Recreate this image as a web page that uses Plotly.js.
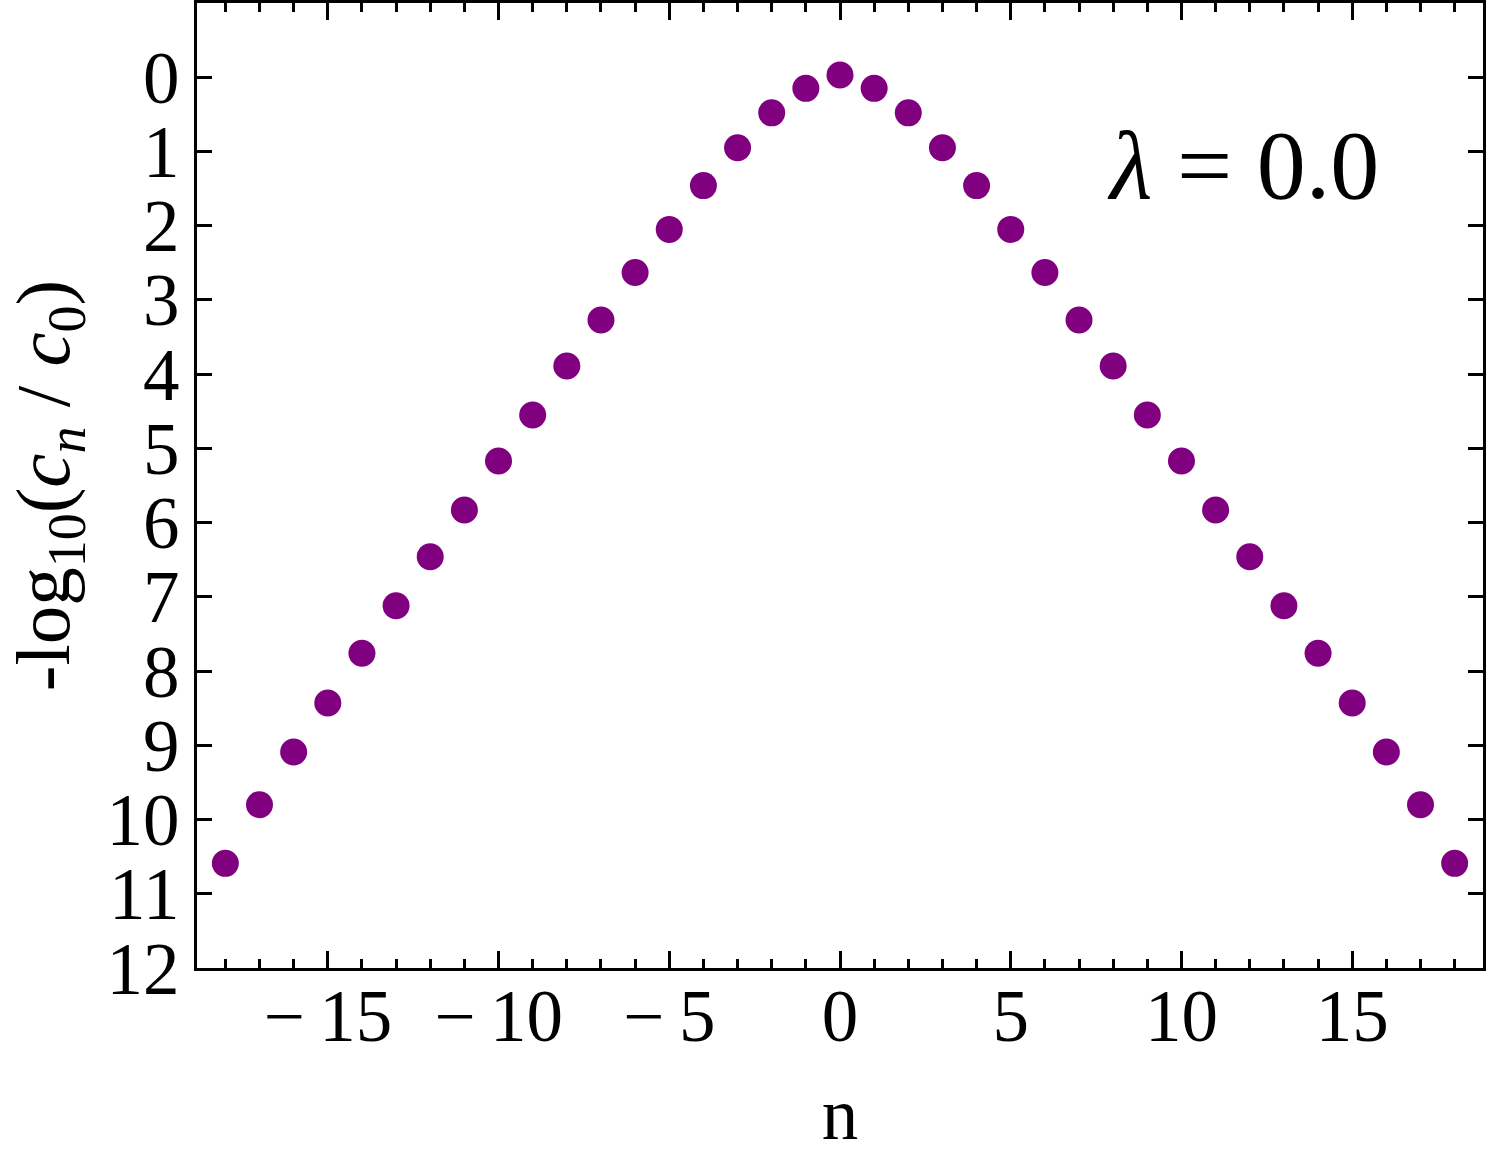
<!DOCTYPE html>
<html>
<head>
<meta charset="utf-8">
<script src="https://cdn.plot.ly/plotly-3.0.1.min.js"></script>
<style>html,body{margin:0;padding:0;background:#fff;}#chart{width:1500px;height:1159px;}</style>
</head>
<body>
<div id="chart"></div>
<script>
// Data
const nValues = [-18,-17,-16,-15,-14,-13,-12,-11,-10,-9,-8,-7,-6,-5,-4,-3,-2,-1,0,1,2,3,4,5,6,7,8,9,10,11,12,13,14,15,16,17,18];
const negLogRatio = [10.59,9.80,9.09,8.43,7.76,7.12,6.46,5.83,5.17,4.55,3.89,3.27,2.63,2.05,1.46,0.95,0.48,0.15,
                     -0.03,
                     0.15,0.48,0.95,1.46,2.05,2.63,3.27,3.89,4.55,5.17,5.83,6.46,7.12,7.76,8.43,9.09,9.80,10.59];
const xTickVals = [-15,-10,-5,0,5,10,15];
const xTickText = ["\u2212\u200915","\u2212\u200910","\u2212\u20095","0","5","10","15"];
const yTickVals = [0,1,2,3,4,5,6,7,8,9,10,11,12];
const yTickText = ["0","1","2","3","4","5","6","7","8","9","10","11","12"];
const annotationText = "<i>λ</i> = 0.0";

const serif = "Liberation Serif, Times New Roman, serif";

const trace = {
  x: nValues,
  y: negLogRatio,
  type: "scatter",
  mode: "markers",
  marker: {color: "#800080", size: 27},
  hoverinfo: "x+y"
};

const layout = {
  width: 1500,
  height: 1159,
  margin: {l: 197, r: 17, t: 3, b: 191},
  paper_bgcolor: "#ffffff",
  plot_bgcolor: "#ffffff",
  showlegend: false,
  font: {family: serif, color: "#000", size: 73},
  xaxis: {
    range: [-18.83, 18.83],
    tickmode: "array",
    tickvals: xTickVals,
    ticktext: xTickText,
    ticks: "inside",
    ticklen: 17,
    tickwidth: 3,
    tickcolor: "#000",
    minor: {dtick: 1, tick0: 0, ticks: "inside", ticklen: 9, tickwidth: 3, tickcolor: "#000", showgrid: false},
    showline: true,
    linewidth: 3,
    linecolor: "#000",
    mirror: "allticks",
    showgrid: false,
    zeroline: false,
    tickfont: {family: serif, size: 73, color: "#000"},
    ticklabelstandoff: -18,
    title: {text: "n", font: {family: serif, size: 73, color: "#000"}, standoff: 33},
    automargin: false
  },
  yaxis: {
    range: [12, -1],
    tickmode: "array",
    tickvals: yTickVals,
    ticktext: yTickText,
    ticks: "inside",
    ticklen: 15,
    tickwidth: 3,
    tickcolor: "#000",
    showline: true,
    linewidth: 3,
    linecolor: "#000",
    mirror: "allticks",
    showgrid: false,
    zeroline: false,
    tickfont: {family: serif, size: 73, color: "#000"},
    ticklabelstandoff: 0,
    title: {text: "-log<sub>10</sub>(<i>c<sub>n</sub></i> / <i>c</i><sub>0</sub>)", font: {family: serif, size: 77, color: "#000"}, standoff: 24},
    automargin: false
  },
  annotations: [{
    text: annotationText,
    xref: "paper", yref: "paper",
    x: 0.813, y: 0.832,
    xanchor: "center", yanchor: "middle",
    showarrow: false,
    font: {family: serif, size: 98, color: "#000"}
  }]
};

Plotly.newPlot("chart", [trace], layout, {displayModeBar: false, staticPlot: true});
</script>
</body>
</html>
